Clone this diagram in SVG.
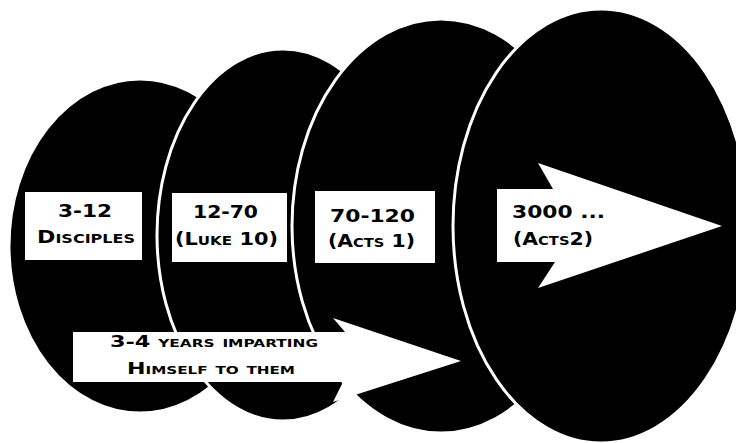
<svg xmlns="http://www.w3.org/2000/svg" width="736" height="443" viewBox="0 0 736 443">
<style>
.stage{fill:#000;stroke:#fff;stroke-width:3}
.box{fill:#fff}
.lbl{font-family:"DejaVu Sans","Liberation Sans",sans-serif;font-weight:bold;font-variant:small-caps;fill:#000}
.big{font-size:18px}
.small{font-size:16px}
</style>
<rect width="736" height="443" fill="#fff"/>
<g id="stage1"><ellipse class="stage" cx="140" cy="246" rx="131" ry="167"/></g>
<g id="stage2"><ellipse class="stage" cx="283" cy="235" rx="126" ry="186"/></g>
<g id="stage3"><ellipse class="stage" cx="441" cy="226" rx="149" ry="207"/></g>
<g id="stage4"><ellipse class="stage" cx="601" cy="226" rx="148" ry="217"/></g>
<g id="connectors">
<polygon class="box" points="497,189 553,189 538,163 722,226 538,288 555,262 497,262"/>
<polygon class="box" points="73,332 345,332 333,318 461,361 333,402 343,382 73,382"/>
</g>
<g id="label1">
<rect class="box" x="25" y="192" width="117" height="68"/>
<text class="lbl big" x="58" y="217" textLength="54" lengthAdjust="spacingAndGlyphs">3-12</text>
<text class="lbl big" x="37" y="243" textLength="98" lengthAdjust="spacingAndGlyphs">Disciples</text>
</g>
<g id="label2">
<rect class="box" x="172" y="193" width="115" height="69"/>
<text class="lbl big" x="193" y="218" textLength="65" lengthAdjust="spacingAndGlyphs">12-70</text>
<text class="lbl big" x="175" y="245" textLength="103" lengthAdjust="spacingAndGlyphs">(Luke 10)</text>
</g>
<g id="label3">
<rect class="box" x="315" y="191" width="120" height="72"/>
<text class="lbl big" x="330" y="222" textLength="85" lengthAdjust="spacingAndGlyphs">70-120</text>
<text class="lbl big" x="328" y="247" textLength="87" lengthAdjust="spacingAndGlyphs">(Acts 1)</text>
</g>
<g id="label4">
<text class="lbl big" x="512" y="218" textLength="93" lengthAdjust="spacingAndGlyphs">3000 ...</text>
<text class="lbl big" x="513" y="245" textLength="80" lengthAdjust="spacingAndGlyphs">(Acts2)</text>
</g>
<g id="label5">
<text class="lbl small" x="110" y="347" textLength="208" lengthAdjust="spacingAndGlyphs">3-4 years imparting</text>
<text class="lbl small" x="127" y="374" textLength="168" lengthAdjust="spacingAndGlyphs">Himself to them</text>
</g>
</svg>
